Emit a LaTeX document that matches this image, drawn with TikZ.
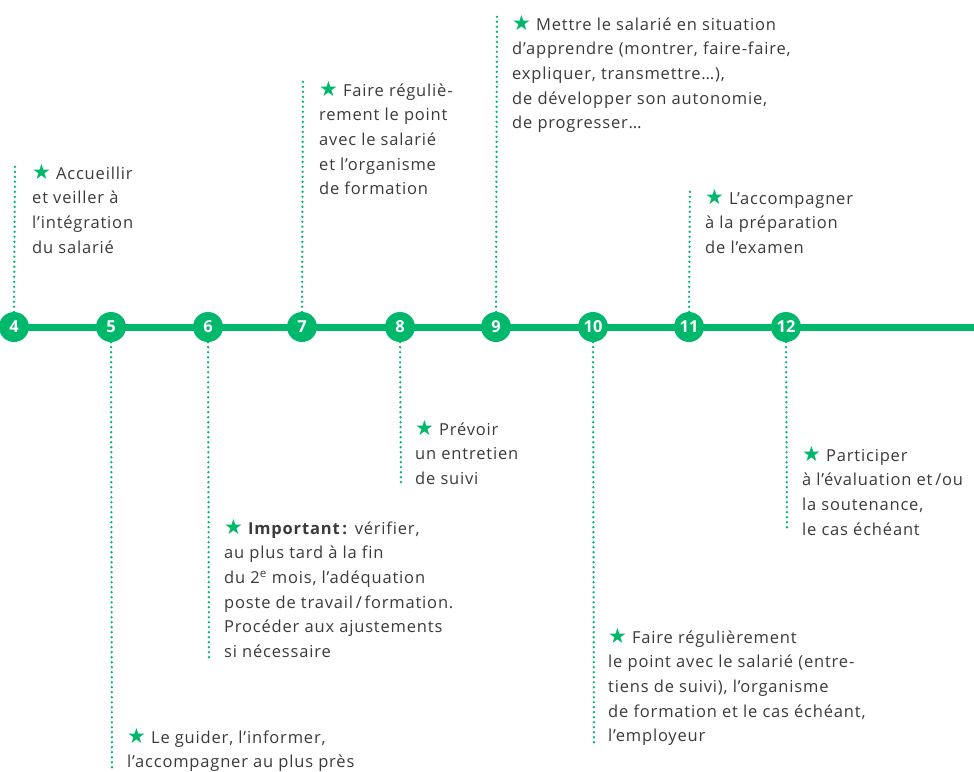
\documentclass[tikz,border=0pt]{standalone}
\usepackage{fontspec}
\setmainfont{Open Sans}[Ligatures=NoCommon,LetterSpace=5]
\newfontfamily\symbfont{DejaVu Sans}
\newfontfamily\chiffres{Open Sans}
\usepackage{tikz}
\usepackage{xcolor}
\definecolor{vert}{HTML}{00B86B}
\definecolor{gristexte}{HTML}{3A3A3A}
\newcommand{\etoile}{{\color{vert}\symbfont\fontsize{21pt}{21pt}\selectfont ★}\ }

\begin{document}
\begin{tikzpicture}[x=1pt,y=-1pt]
  \tikzset{font={\fontsize{16.5pt}{24.6pt}\selectfont},
    rond/.style={circle,fill=vert,minimum size=30pt,inner sep=0pt,text=white,
      font={\chiffres\fontsize{16.5pt}{16.5pt}\selectfont\bfseries}},
    pointille/.style={vert,line width=2.6pt,line cap=round,dash pattern=on 0pt off 5pt},
    texte/.style={anchor=north west,align=left,inner sep=0pt,text=gristexte}}
  \useasboundingbox (0,0) rectangle (974,771);
  \draw[vert,line width=7pt] (0,327)--(974,327);
  \foreach \n/\x in {4/14,5/111,6/208,7/302,8/400,9/496,10/593,11/689,12/786}
    \node[rond] (n\n) at (\x,327) {\n};
  % bouts des pointilles
  \coordinate (e4) at (15,163);
  \coordinate (e5) at (112,768);
  \coordinate (e6) at (209,660);
  \coordinate (e7) at (303,80);
  \coordinate (e8) at (401,487);
  \coordinate (e9) at (497,15);
  \coordinate (e10) at (594,745);
  \coordinate (e11) at (690,187);
  \coordinate (e12) at (787,530);
  \foreach \n in {4,7,9,11} \draw[pointille] (n\n.north) -- (e\n);
  \foreach \n in {5,6,8,10,12} \draw[pointille] (n\n.south) -- (e\n);
  % textes au-dessus
  \node[texte] (t4) at (32,164) {\etoile Accueillir\\ et veiller à\\ l’intégration\\ du salarié};
  \node[texte] (t7) at (319,81) {\etoile Faire réguliè-\\ rement le point\\ avec le salarié\\ et l’organisme\\ de formation};
  \node[texte] (t9) at (512,15) {\etoile Mettre le salarié en situation\\ d’apprendre (montrer, faire-faire,\\ expliquer, transmettre…),\\ de développer son autonomie,\\ de progresser…};
  \node[texte] (t11) at (705,189) {\etoile L’accompagner\\ à la préparation\\ de l’examen};
  % textes au-dessous
  \node[texte] (t5) at (127,728) {\etoile Le guider, l’informer,\\ l’accompagner au plus près};
  \node[texte] (t6) at (224,519) {\etoile\textbf{Important\,:} vérifier,\\ au plus tard à la fin\\ du 2\textsuperscript{e} mois, l’adéquation\\ poste de travail\,/\,formation.\\ Procéder aux ajustements\\ si nécessaire};
  \node[texte] (t8) at (415,420) {\etoile Prévoir\\ un entretien\\ de suivi};
  \node[texte] (t10) at (608,628) {\etoile Faire régulièrement\\ le point avec le salarié (entre-\\ tiens de suivi), l’organisme\\ de formation et le cas échéant,\\ l’employeur};
  \node[texte] (t12) at (802,446) {\etoile Participer\\ à l’évaluation et\,/ou\\ la soutenance,\\ le cas échéant};
\end{tikzpicture}
\end{document}
